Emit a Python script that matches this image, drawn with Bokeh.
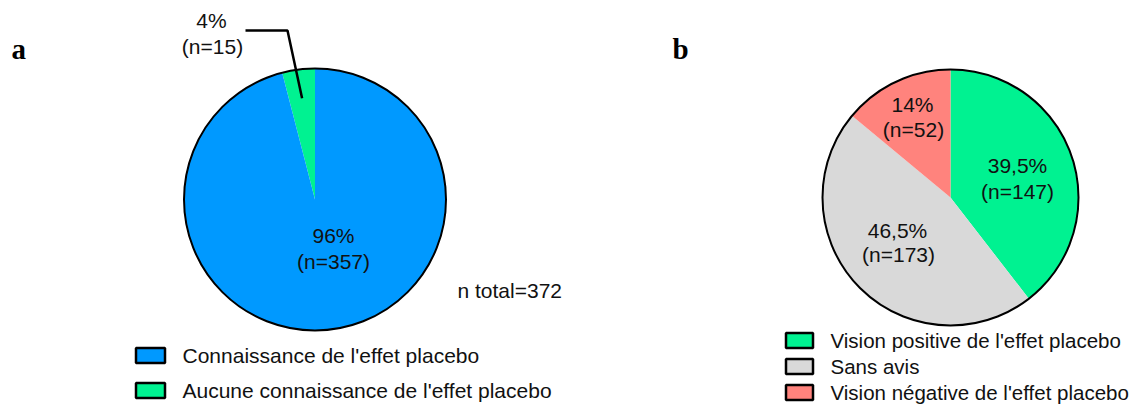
import math
from bokeh.plotting import figure
from bokeh.models import Range1d
from bokeh.core.properties import value
from bokeh.embed import file_html
from bokeh.resources import INLINE

# ---- data ----
a_labels = ["Connaissance de l'effet placebo", "Aucune connaissance de l'effet placebo"]
a_counts = [357, 15]
a_pct = ["96%", "4%"]
a_colors = ["#0099FF", "#00F291"]

b_labels = ["Vision positive de l'effet placebo", "Sans avis", "Vision négative de l'effet placebo"]
b_counts = [147, 173, 52]
b_pct = ["39,5%", "46,5%", "14%"]
b_colors = ["#00F291", "#D9D9D9", "#FF837D"]

n_total = 372

W, H = 1136, 410
FONT = value("Liberation Sans")

p = figure(width=W, height=H, output_backend="svg", toolbar_location=None,
           x_range=Range1d(0, W), y_range=Range1d(0, H), min_border=0)
p.axis.visible = False
p.grid.visible = False
p.outline_line_color = None
p.background_fill_color = "white"


def X(px):
    return px


def Y(py):
    return H - py


def txt(x, y, s, size="21px", align="center", font=FONT, style="normal", color="#111111"):
    p.text(x=[X(x)], y=[Y(y)], text=[s], text_font=font, text_font_size=size,
           text_align=align, text_baseline="middle", text_font_style=style, text_color=color)


# ---- pie a (green first, counterclockwise from 12 o'clock) ----
cxa, cya, ra = X(314.5), Y(199), 131
tot_a = sum(a_counts)
order_a = [1, 0]
ang = math.pi / 2
mid_a = {}
for i in order_a:
    span = a_counts[i] / tot_a * 2 * math.pi
    p.wedge(x=[cxa], y=[cya], radius=ra, start_angle=ang, end_angle=ang + span,
            direction="anticlock", fill_color=a_colors[i], line_color=None)
    mid_a[i] = ang + span / 2
    ang += span
p.circle(x=[cxa], y=[cya], radius=ra, fill_color=None, line_color="black", line_width=2)

# leader line for small slice
m = mid_a[1]
ex, ey = cxa + math.cos(m) * ra * 0.78, cya + math.sin(m) * ra * 0.78
p.line(x=[X(245), X(287), ex], y=[Y(30), Y(30), ey], line_color="black", line_width=2.5)

txt(211, 20, a_pct[1])
txt(212, 46, "(n=%d)" % a_counts[1])
txt(333, 235, a_pct[0])
txt(333, 261, "(n=%d)" % a_counts[0])
txt(457, 290, "n total=%d" % n_total, align="left")

# ---- pie b (clockwise from 12 o'clock) ----
cxb, cyb, rb = X(950), Y(197), 128
tot_b = sum(b_counts)
ang = math.pi / 2
for i in range(len(b_counts)):
    span = b_counts[i] / tot_b * 2 * math.pi
    p.wedge(x=[cxb], y=[cyb], radius=rb, start_angle=ang - span, end_angle=ang,
            direction="anticlock", fill_color=b_colors[i], line_color=None)
    ang -= span
p.circle(x=[cxb], y=[cyb], radius=rb, fill_color=None, line_color="black", line_width=2)

txt(1017, 165, b_pct[0])
txt(1017, 191, "(n=%d)" % b_counts[0])
txt(897, 230, b_pct[1])
txt(898, 254, "(n=%d)" % b_counts[1])
txt(912, 104, b_pct[2])
txt(913, 129, "(n=%d)" % b_counts[2])

# ---- panel letters ----
serif = value("Liberation Serif")
p.text(x=[X(11)], y=[Y(48)], text=["a"], text_font=serif, text_font_size="29px",
       text_font_style="bold", text_baseline="alphabetic", text_color="black")
p.text(x=[X(672)], y=[Y(48)], text=["b"], text_font=serif, text_font_size="29px",
       text_font_style="bold", text_baseline="alphabetic", text_color="black")

# ---- legends ----
leg_a_y = [355, 390]
for i, yy in enumerate(leg_a_y):
    p.rect(x=[X(150)], y=[Y(yy)], width=29, height=15, fill_color=a_colors[i],
           line_color="black", line_width=2.5)
    txt(182, yy, a_labels[i], align="left")

leg_b_y = [340, 366, 392]
for i, yy in enumerate(leg_b_y):
    p.rect(x=[X(799)], y=[Y(yy)], width=27, height=15, fill_color=b_colors[i],
           line_color="black", line_width=2.5)
    txt(830, yy, b_labels[i], size="20.5px", align="left")

open("out.html", "w").write(file_html(p, INLINE))
